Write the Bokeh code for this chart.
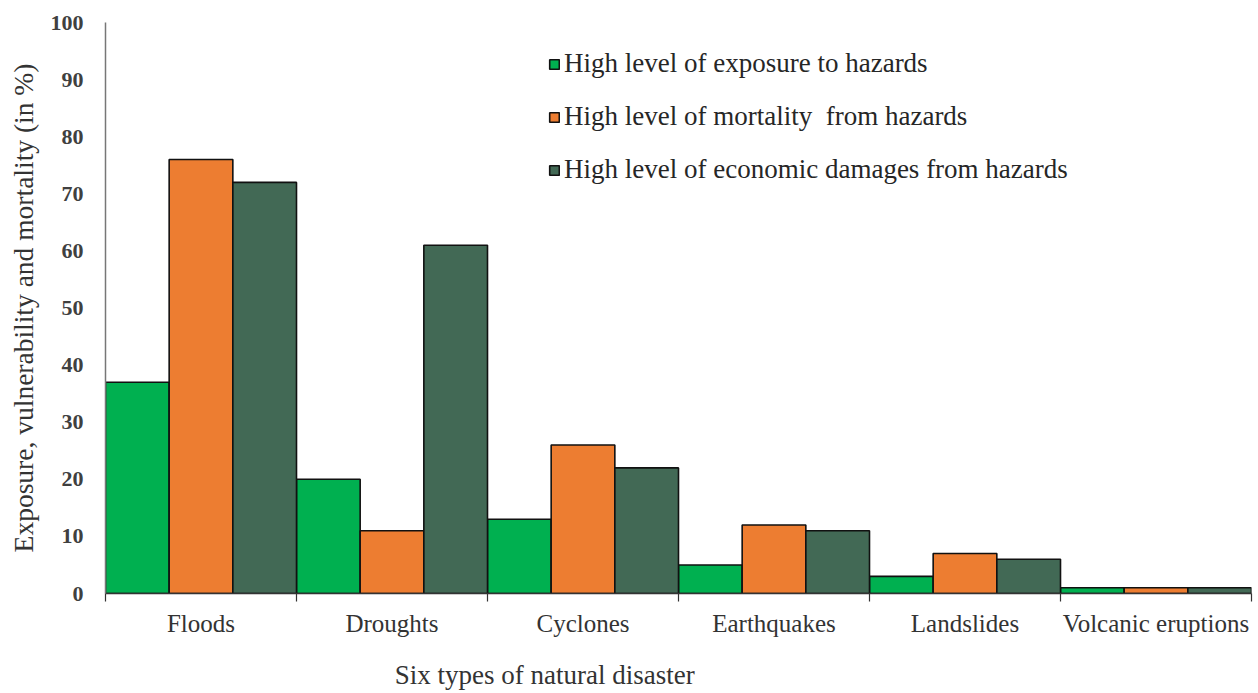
from bokeh.plotting import figure
from bokeh.models import FixedTicker, Legend, LegendItem, LinearAxis, ColumnDataSource, Range1d
from bokeh.embed import file_html
from bokeh.resources import INLINE

categories = ["Floods", "Droughts", "Cyclones", "Earthquakes", "Landslides", "Volcanic eruptions"]
exposure = [37, 20, 13, 5, 3, 1]
mortality = [76, 11, 26, 12, 7, 1]
economic = [72, 61, 22, 11, 6, 1]
series_names = ["High level of exposure to hazards",
                "High level of mortality  from hazards",
                "High level of economic damages from hazards"]
colors = ["#00B050", "#ED7D31", "#426955"]
y_ticks = [0, 10, 20, 30, 40, 50, 60, 70, 80, 90, 100]
x_title = "Six types of natural disaster"

FONT = "Liberation Serif"

p = figure(width=1256, height=692, output_backend="svg", toolbar_location=None,
           x_range=Range1d(0, len(categories)), y_range=Range1d(0, 100))
p.min_border_left = 105
p.min_border_right = 5
p.min_border_top = 22
p.min_border_bottom = 99
p.outline_line_color = None
p.grid.visible = False
p.background_fill_color = "white"

idx = list(range(len(categories)))
renderers = []
for k, vals in enumerate([exposure, mortality, economic]):
    src = ColumnDataSource(dict(x=[i + (k + 0.5) / 3 for i in idx], top=vals))
    r = p.vbar(x="x", top="top", width=1 / 3, bottom=0, source=src,
               fill_color=colors[k], line_color="#111111", line_width=1.6)
    renderers.append(r)

# x axis
xa = p.xaxis[0]
xa.ticker = FixedTicker(ticks=[i + 0.5 for i in idx], minor_ticks=list(range(len(categories) + 1)))
xa.major_label_overrides = {i + 0.5: c for i, c in enumerate(categories)}
xa.major_tick_line_color = None
xa.major_tick_out = 0
xa.major_tick_in = 0
xa.minor_tick_line_color = "#333333"
xa.minor_tick_out = 8
xa.minor_tick_in = 0
xa.minor_tick_line_width = 1.2
xa.axis_line_color = "#333333"
xa.axis_line_width = 1.5
xa.major_label_text_font = FONT
xa.major_label_text_font_size = "25px"
xa.major_label_text_color = "#333333"
xa.major_label_standoff = 8

# x axis title, sitting left of centre as in the original (second, line-less axis)
title_pos = 2.3
xt = LinearAxis(ticker=FixedTicker(ticks=[title_pos]),
                major_label_overrides={title_pos: x_title})
xt.axis_line_color = None
xt.major_tick_line_color = None
xt.minor_tick_line_color = None
xt.major_tick_out = 0
xt.major_tick_in = 0
xt.major_label_text_font = FONT
xt.major_label_text_font_size = "27px"
xt.major_label_text_color = "#333333"
xt.major_label_standoff = 20
p.add_layout(xt, "below")

# y axis
ya = p.yaxis[0]
ya.ticker = FixedTicker(ticks=y_ticks)
ya.major_tick_line_color = None
ya.minor_tick_line_color = None
ya.major_tick_out = 0
ya.major_tick_in = 0
ya.axis_line_color = "#777777"
ya.axis_line_width = 1.5
ya.major_label_text_font = FONT
ya.major_label_text_font_style = "bold"
ya.major_label_text_font_size = "22px"
ya.major_label_text_color = "#404040"
ya.major_label_standoff = 22
ya.axis_label = "Exposure, vulnerability and mortality (in %)"
ya.axis_label_text_font = FONT
ya.axis_label_text_font_style = "normal"
ya.axis_label_text_font_size = "27.5px"
ya.axis_label_text_color = "#333333"
ya.axis_label_standoff = 9

legend = Legend(items=[LegendItem(label=n, renderers=[r]) for n, r in zip(series_names, renderers)],
                location=(443, 408))
legend.glyph_width = 12
legend.glyph_height = 12
legend.label_text_font = FONT
legend.label_text_font_size = "27px"
legend.label_text_color = "#262626"
legend.label_standoff = 4
legend.spacing = 22
legend.padding = 0
legend.margin = 0
legend.border_line_color = None
legend.background_fill_alpha = 0
p.add_layout(legend, "center")

open("out.html", "w").write(file_html(p, INLINE))
